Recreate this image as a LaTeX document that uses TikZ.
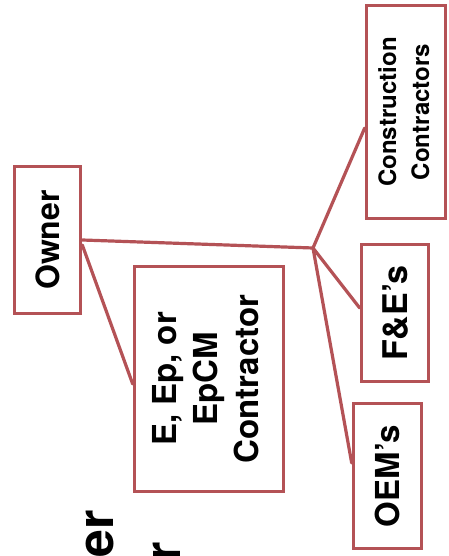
\documentclass[tikz,border=0pt]{standalone}
\usepackage{fontspec}
\setmainfont{TeX Gyre Heros}
\begin{document}
\definecolor{boxred}{RGB}{180,82,86}
\tikzset{
  orgbox/.style={draw=boxred, line width=3.6pt, fill=white, inner sep=0pt, font=\bfseries},
  link/.style={draw=boxred, line width=3.2pt, line cap=round},
  frag/.style={font=\fontsize{50}{60}\selectfont\bfseries, inner sep=0pt, rotate=90, anchor=base east}
}
\begin{tikzpicture}[x=1pt, y=-1pt]
\useasboundingbox[fill=white] (0,0) rectangle (448,556);
% fragments of cut-off text
\node[frag] (fragA) at (113,510) {er};
\node[frag] (fragB) at (180,542) {r};
% boxes
\node[orgbox, minimum width=66pt, minimum height=147pt] (owner) at (47.5,240)
  {\rotatebox{90}{\fontsize{32}{38}\selectfont Owner}};
\node[orgbox, minimum width=149pt, minimum height=225pt] (eb) at (209,379)
  {\rotatebox{90}{\fontsize{33}{41}\selectfont\begin{tabular}{@{}c@{}}E, Ep, or\\EpCM\\Contractor\end{tabular}}};
\node[orgbox, minimum width=79pt, minimum height=213pt] (cc) at (406,112)
  {\rotatebox{90}{\fontsize{24}{33}\selectfont\begin{tabular}{@{}c@{}}Construction\\Contractors\end{tabular}}};
\node[orgbox, minimum width=67pt, minimum height=137pt] (fe) at (395,313)
  {\rotatebox{90}{\fontsize{34}{40}\selectfont F\&E’s}};
\node[orgbox, minimum width=68pt, minimum height=145pt] (oem) at (387.5,476)
  {\rotatebox{90}{\fontsize{33}{40}\selectfont OEM’s}};
% junction
\coordinate (j) at (313,248);
% connectors
\draw[link] (owner.east) -- (j);
\draw[link] ([yshift=-5pt]owner.east) -- ([yshift=-5pt]eb.west);
\draw[link] (j) -- ([yshift=-16pt]cc.west);
\draw[link] (j) -- ([yshift=5pt]fe.west);
\draw[link] (j) -- ([yshift=13pt]oem.west);
\end{tikzpicture}
\end{document}
